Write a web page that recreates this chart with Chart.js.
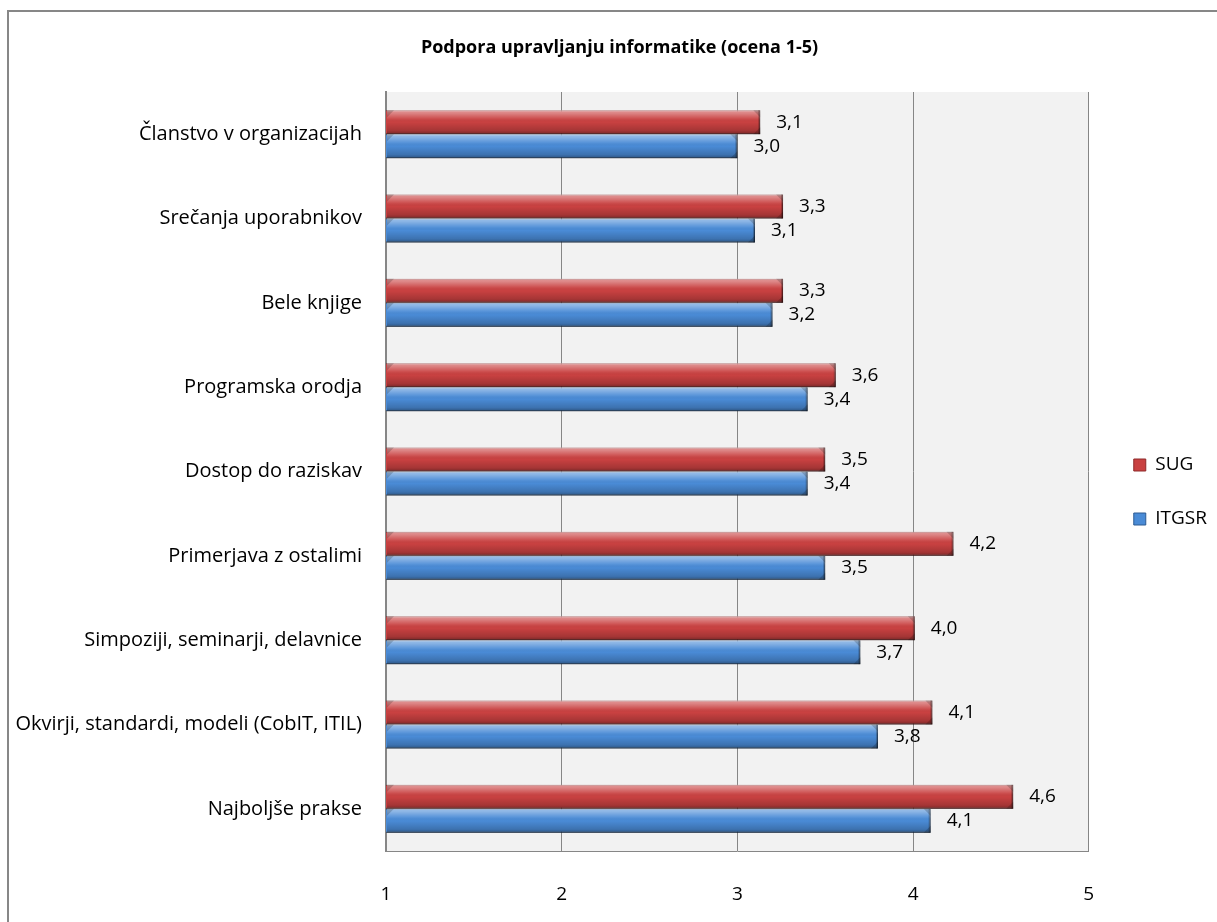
<!DOCTYPE html>
<html>
<head>
<meta charset="utf-8">
<script src="https://cdn.jsdelivr.net/npm/chart.js@4/dist/chart.umd.min.js"></script>
<style>
  html, body { margin: 0; padding: 0; background: #ffffff; }
  #wrap { position: relative; width: 1217px; height: 922px; overflow: hidden; }
  #frame { position: absolute; left: 7px; top: 10px; width: 1260px; height: 960px;
           border: 2px solid #878787; box-sizing: border-box; pointer-events: none; }
  canvas { position: absolute; left: 0; top: 0; }
</style>
</head>
<body>
<div id="wrap">
  <canvas id="chart" width="1217" height="922"></canvas>
  <div id="frame"></div>
</div>
<script>
// Categories, top to bottom
const categories = [
  'Članstvo v organizacijah',
  'Srečanja uporabnikov',
  'Bele knjige',
  'Programska orodja',
  'Dostop do raziskav',
  'Primerjava z ostalimi',
  'Simpoziji, seminarji, delavnice',
  'Okvirji, standardi, modeli (CobIT, ITIL)',
  'Najboljše prakse'
];

// Average score per group (scale 1-5)
const sugValues   = [3.13, 3.26, 3.26, 3.56, 3.50, 4.23, 4.01, 4.11, 4.57];
const itgsrValues = [3.00, 3.10, 3.20, 3.40, 3.40, 3.50, 3.70, 3.80, 4.10];

const seriesNames = ['SUG', 'ITGSR'];
const xTickValues = [1, 2, 3, 4, 5];

const FONT = '"Open Sans", Lato, "DejaVu Sans", sans-serif';

function fmt(v) { return v.toFixed(1).replace('.', ','); }

// light grey plot background
const plotBackground = {
  id: 'plotBackground',
  beforeDraw(chart) {
    const { ctx, chartArea: a } = chart;
    ctx.save();
    ctx.fillStyle = '#f2f2f2';
    ctx.fillRect(a.left, a.top, a.right - a.left, a.bottom - a.top);
    ctx.restore();
  }
};

// soft drop shadow under the bars
const barShadow = {
  id: 'barShadow',
  beforeDatasetsDraw(chart) {
    const ctx = chart.ctx;
    ctx.save();
    ctx.shadowColor = 'rgba(0,0,0,0.35)';
    ctx.shadowBlur = 5;
    ctx.shadowOffsetX = 2;
    ctx.shadowOffsetY = 3;
  },
  afterDatasetsDraw(chart) {
    chart.ctx.restore();
  }
};

// bevelled, glossy finish on each bar
const barBevel = {
  id: 'barBevel',
  afterDatasetsDraw(chart) {
    const ctx = chart.ctx;
    const a = chart.chartArea;
    ctx.save();
    ctx.beginPath();
    ctx.rect(a.left, a.top, a.right - a.left, a.bottom - a.top);
    ctx.clip();
    chart.data.datasets.forEach((ds, di) => {
      const meta = chart.getDatasetMeta(di);
      meta.data.forEach(bar => {
        const left = Math.max(a.left + 1, Math.min(bar.base, bar.x));
        const right = Math.max(bar.base, bar.x);
        const top = bar.y - bar.height / 2;
        const bottom = bar.y + bar.height / 2;
        const h = bottom - top;
        const g = ctx.createLinearGradient(0, top, 0, bottom);
        g.addColorStop(0, 'rgba(255,255,255,0.45)');
        g.addColorStop(0.12, 'rgba(255,255,255,0.36)');
        g.addColorStop(0.35, 'rgba(255,255,255,0.08)');
        g.addColorStop(0.5, 'rgba(0,0,0,0)');
        g.addColorStop(0.85, 'rgba(0,0,0,0.18)');
        g.addColorStop(1, 'rgba(0,0,0,0.40)');
        ctx.fillStyle = g;
        ctx.fillRect(left, top, right - left, h);
        // bevel corners at both ends
        const b = Math.min(7, h / 3);
        ctx.fillStyle = 'rgba(0,0,0,0.18)';
        ctx.beginPath();
        ctx.moveTo(right - b, top); ctx.lineTo(right, top); ctx.lineTo(right, top + b);
        ctx.closePath(); ctx.fill();
        ctx.beginPath();
        ctx.moveTo(right - b, bottom); ctx.lineTo(right, bottom); ctx.lineTo(right, bottom - b);
        ctx.closePath(); ctx.fill();
        ctx.beginPath();
        ctx.moveTo(left, top); ctx.lineTo(left + b, top); ctx.lineTo(left, top + b);
        ctx.closePath(); ctx.fill();
        ctx.fillStyle = 'rgba(0,0,0,0.22)';
        ctx.fillRect(right - 2, top, 2, h);
      });
    });
    ctx.restore();
  }
};

// value labels to the right of each bar
const valueLabels = {
  id: 'valueLabels',
  afterDatasetsDraw(chart) {
    const ctx = chart.ctx;
    ctx.save();
    ctx.font = '19px ' + FONT;
    ctx.fillStyle = '#000000';
    ctx.textAlign = 'left';
    ctx.textBaseline = 'middle';
    chart.data.datasets.forEach((ds, di) => {
      const meta = chart.getDatasetMeta(di);
      meta.data.forEach((bar, i) => {
        ctx.fillText(fmt(ds.data[i]), bar.x + 16, bar.y);
      });
    });
    ctx.restore();
  }
};

// nudge title and legend into place
const placeBlocks = {
  id: 'placeBlocks',
  afterLayout(chart) {
    const lg = chart.legend;
    if (lg) { lg.left += 10; lg.right += 10; lg.top += 31; lg.bottom += 31; }
    const tb = chart.titleBlock;
    if (tb) { tb.left += 32; }
  }
};

function build() {
  new Chart(document.getElementById('chart'), {
    type: 'bar',
    data: {
      labels: categories,
      datasets: [
        {
          label: seriesNames[0],
          data: sugValues,
          backgroundColor: '#c94141',
          borderColor: '#8e2a2a',
          borderWidth: 1,
          borderSkipped: false
        },
        {
          label: seriesNames[1],
          data: itgsrValues,
          backgroundColor: '#4a8bd6',
          borderColor: '#2c5a92',
          borderWidth: 1,
          borderSkipped: false
        }
      ]
    },
    options: {
      indexAxis: 'y',
      responsive: false,
      animation: false,
      devicePixelRatio: 1,
      categoryPercentage: 0.57,
      barPercentage: 1.0,
      layout: { padding: { top: 0, right: 10, bottom: 0, left: 0 } },
      plugins: {
        title: {
          display: true,
          text: 'Podpora upravljanju informatike (ocena 1-5)',
          color: '#000000',
          font: { family: FONT, size: 18, weight: 'bold', lineHeight: 1.2 },
          padding: { top: 37, bottom: 33.4 }
        },
        legend: {
          display: true,
          position: 'right',
          align: 'center',
          labels: {
            color: '#000000',
            font: { family: FONT, size: 19 },
            boxWidth: 12,
            boxHeight: 12,
            padding: 35
          }
        },
        tooltip: { enabled: false }
      },
      scales: {
        x: {
          type: 'linear',
          min: 1,
          max: 5,
          afterBuildTicks(scale) { scale.ticks = xTickValues.map(v => ({ value: v })); },
          afterFit(scale) { scale.height = 71; },
          ticks: {
            color: '#000000',
            font: { family: FONT, size: 19 },
            padding: 32,
            callback: v => String(v)
          },
          grid: { color: '#868686', lineWidth: 1, drawTicks: false },
          border: { display: true, color: '#868686', width: 1 }
        },
        y: {
          type: 'category',
          afterFit(scale) { scale.width = 386; },
          ticks: {
            color: '#000000',
            font: { family: FONT, size: 20 },
            padding: 24
          },
          grid: { display: false, drawTicks: false },
          border: { display: true, color: '#868686', width: 2 }
        }
      }
    },
    plugins: [placeBlocks, plotBackground, barShadow, barBevel, valueLabels]
  });
}

if (document.fonts && document.fonts.load) {
  Promise.all([
    document.fonts.load('19px "Open Sans"'),
    document.fonts.load('bold 18px "Open Sans"')
  ]).then(build, build);
} else {
  build();
}
</script>
</body>
</html>
